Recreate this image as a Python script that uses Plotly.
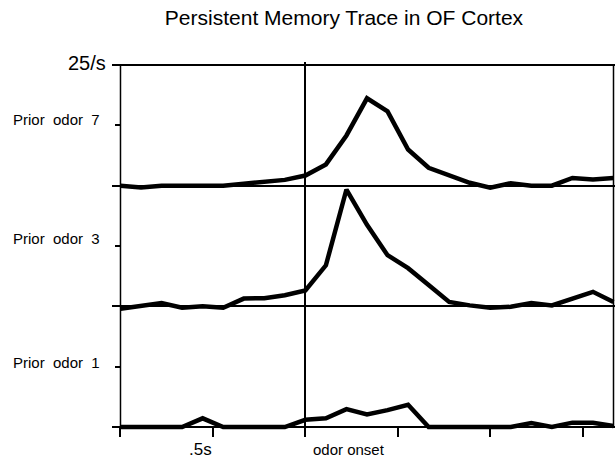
import plotly.graph_objects as go

# ---- data (time bins relative to odor onset; firing rate in spikes/s) ----
time_bins = list(range(-9, 16))
prior_odor_7 = [0, -0.4, 0, 0, 0, 0, 0.4, 0.8, 1.2,
                2.1, 4.4, 10.4, 18.1, 15.4, 7.5, 3.7, 2.1, 0.6, -0.4, 0.5, 0, 0, 1.6, 1.3, 1.6]
prior_odor_3 = [-0.5, 0, 0.7, -0.3, 0, -0.3, 1.6, 1.7, 2.3,
                3.3, 8.5, 24.2, 16.9, 10.6, 7.9, 4.4, 0.9, 0.2, -0.3, -0.1, 0.7, 0.2, 1.6, 3.0, 0.9]
prior_odor_1 = [0, 0, 0, 0, 1.8, 0, 0, 0, 0,
                1.5, 1.8, 3.7, 2.6, 3.5, 4.6, 0, 0, 0, 0, 0, 0.8, 0, 0.9, 0.9, 0.2]
panel_labels = ["Prior\u00a0\u00a0odor\u00a0\u00a07", "Prior\u00a0\u00a0odor\u00a0\u00a03", "Prior\u00a0\u00a0odor\u00a0\u00a01"]
panel_span = 25  # spikes/s per panel
x_tickvals = [-9, -4.5, 0, 4.5, 9, 13.5]

# ---- geometry ----
W, H = 615, 459
ML, MR, MT, MB = 117, 0, 62, 25
X_RANGE = [-9.17, 15.073]
Y_RANGE = [-1.45, 75.62]
PW, PH = W - ML - MR, H - MT - MB


def px_x(p):
    return (p - ML) / PW


def px_y(p):
    return (H - MB - p) / PH


FONT = "Liberation Sans, Arial, Helvetica, sans-serif"

fig = go.Figure()
series = [prior_odor_7, prior_odor_3, prior_odor_1]
offsets = [2 * panel_span, panel_span, 0]
for vals, off in zip(series, offsets):
    fig.add_trace(go.Scatter(
        x=time_bins, y=[v + off for v in vals], mode="lines",
        line=dict(color="black", width=4.5), showlegend=False, hoverinfo="skip"))

# frame box
fig.add_shape(type="rect", xref="x", yref="y", x0=time_bins[0], x1=time_bins[-1],
              y0=0, y1=3 * panel_span, line=dict(color="black", width=1.5), layer="above")

y0_paper = (0 - Y_RANGE[0]) / (Y_RANGE[1] - Y_RANGE[0])
x0_paper = (time_bins[0] - X_RANGE[0]) / (X_RANGE[1] - X_RANGE[0])

fig.update_xaxes(range=X_RANGE, anchor="free", position=y0_paper, showticklabels=False,
                 tickmode="array", tickvals=x_tickvals, ticks="outside", ticklen=9,
                 tickwidth=1.5, tickcolor="black", showgrid=False, showline=False,
                 zeroline=True, zerolinecolor="black", zerolinewidth=1.8)
fig.update_yaxes(range=Y_RANGE, anchor="free", position=x0_paper, showticklabels=False,
                 tickmode="array", tickvals=[0, 25, 50, 75], ticks="outside", ticklen=8,
                 tickwidth=1.5, tickcolor="black",
                 minor=dict(tickmode="array", tickvals=[12.5, 37.5, 62.5], ticks="outside",
                            ticklen=5, tickwidth=1.5, tickcolor="black", showgrid=False),
                 showgrid=True, gridcolor="black", gridwidth=1.5, showline=False, zeroline=False)

ann = []
ann.append(dict(text="25/s", x=px_x(108), y=px_y(63), xanchor="right", yanchor="middle",
                font=dict(size=20, family=FONT, color="black")))
for lab, py in zip(panel_labels, [119, 238, 362]):
    ann.append(dict(text=lab, x=px_x(102), y=px_y(py), xanchor="right", yanchor="middle",
                    font=dict(size=15, family=FONT, color="black")))
ann.append(dict(text=".5s", x=px_x(200), y=px_y(449.5), xanchor="center", yanchor="middle",
                font=dict(size=17, family=FONT, color="black")))
ann.append(dict(text="odor onset", x=px_x(311), y=px_y(449.5), xanchor="left", yanchor="middle",
                font=dict(size=15, family=FONT, color="black")))
for a in ann:
    a.update(xref="paper", yref="paper", showarrow=False)

fig.update_layout(
    width=W, height=H, margin=dict(l=ML, r=MR, t=MT, b=MB),
    paper_bgcolor="white", plot_bgcolor="white",
    title=dict(text="Persistent Memory Trace in OF Cortex", x=344 / W, xanchor="center",
               y=1 - 18 / H, yanchor="middle", font=dict(size=21, family=FONT, color="black")),
    annotations=ann,
)

fig.write_html("out.html")
